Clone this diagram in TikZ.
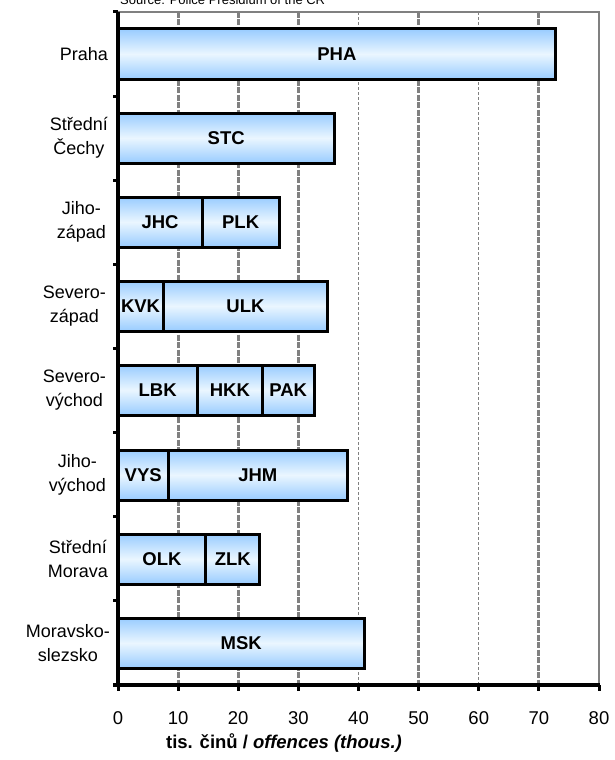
\documentclass[tikz,border=0pt]{standalone}
\usepackage{fontspec}
\setmainfont{Liberation Sans}
\usetikzlibrary{positioning}

\definecolor{barblue}{HTML}{99CCFF}
\definecolor{barlight}{HTML}{EAF6FF}
\definecolor{gridgray}{HTML}{808080}

\tikzset{
  bar/.style={draw=black, line width=3pt, top color=barblue, bottom color=barblue, middle color=barlight},
  seglabel/.style={font=\fontsize{18.5}{20}\selectfont\bfseries, inner sep=0pt},
  catlabel/.style={font=\fontsize{18}{24}\selectfont, align=center, anchor=east, inner sep=0pt},
  ticklabel/.style={font=\fontsize{18.5}{20}\selectfont, inner sep=0pt},
  heavygrid/.style={draw=gridgray, line width=3pt, dash pattern=on 6pt off 1.5pt},
  lightgrid/.style={draw=gridgray, line width=0.9pt, dash pattern=on 3pt off 2pt},
}

\begin{document}
\begin{tikzpicture}[x=1pt,y=-1pt]
\useasboundingbox (0,0) rectangle (615,760);
% source line, cut at the top
\node[anchor=base west, inner sep=0pt, font=\fontsize{13}{15}\selectfont] (src) at (120,5) {Source: Police Presidium of the CR};
% grid
\foreach \v in {10,20,30,50,70}
  \draw[heavygrid] ({118+\v*6.0125},12) -- ({118+\v*6.0125},685);
\foreach \v in {40,60}
  \draw[lightgrid] ({118+\v*6.0125},12) -- ({118+\v*6.0125},685);
\draw[gridgray, line width=1.5pt] (118,12) -- (599,12) -- (599,685);
% bars
\foreach \a/\b/\y/\lab in {0/72.8/54/PHA, 0/36.0/138/STC,
    0/14.0/222/JHC, 14.0/26.8/222/PLK,
    0/7.5/306/KVK, 7.5/34.9/306/ULK,
    0/13.2/390/LBK, 13.2/24.0/390/HKK, 24.0/32.6/390/PAK,
    0/8.4/475/VYS, 8.4/38.1/475/JHM,
    0/14.6/559/OLK, 14.6/23.6/559/ZLK,
    0/41.0/643/MSK}{
  \draw[bar] ({118+\a*6.0125},\y-25) rectangle ({118+\b*6.0125},\y+25);
  \node[seglabel] (\lab) at ({118+(\a+\b)*3.00625},\y) {\lab};
}
% axes
\coordinate (top) at (118,12);
\coordinate (orig) at (118,687);
\coordinate (left) at (113,685);
\coordinate (right) at (600,685);
\draw[line width=3.5pt] (top) -- (orig);
\draw[line width=4.5pt] (left) -- (right);
\foreach \k in {0,...,7}
  \draw[line width=3pt] (113,{12+\k*84.125}) -- (118,{12+\k*84.125});
\foreach \v in {0,10,...,80}{
  \draw[line width=3pt] ({118+\v*6.0125},685) -- ({118+\v*6.0125},691);
  \node[ticklabel] (t\v) at ({118+\v*6.0125},718) {\v};
}
% regions
\node[catlabel] (praha) at (108,54) {Praha};
\node[catlabel] (stc) at (108,138) {Střední\\Čechy};
\node[catlabel] (jz) at (106,222) {Jiho-\\západ};
\node[catlabel] (sz) at (106,306) {Severo-\\západ};
\node[catlabel] (sv) at (106,390) {Severo-\\východ};
\node[catlabel] (jv) at (106,475) {Jiho-\\východ};
\node[catlabel] (sm) at (108,559) {Střední\\Morava};
\node[catlabel] (ms) at (110,643) {Moravsko-\\slezsko};
% axis title
\node[inner sep=0pt, font=\fontsize{18.5}{20}\selectfont\bfseries] (xtitle) at (284,743) {tis. činů / \textit{offences (thous.)}};
\end{tikzpicture}
\end{document}
